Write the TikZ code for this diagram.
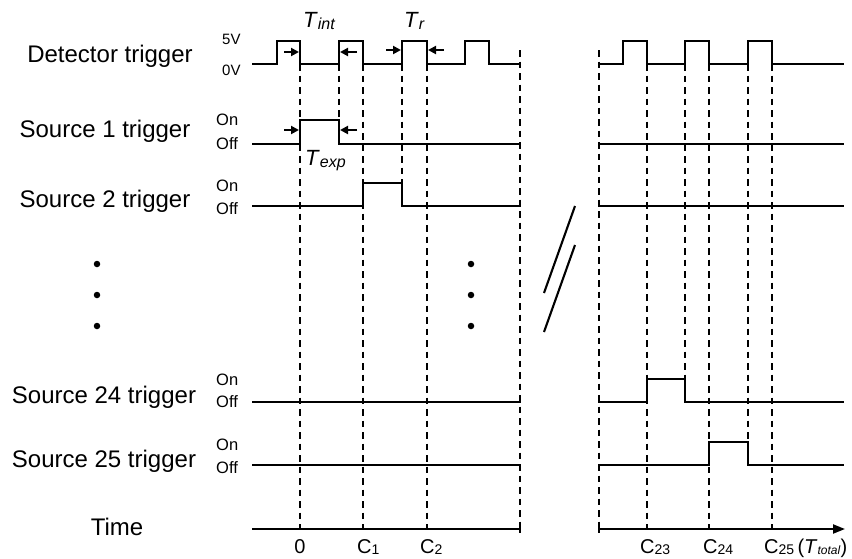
\documentclass[tikz,border=0pt]{standalone}
\usepackage{fontspec}
\setmainfont{Liberation Sans}
\usetikzlibrary{arrows.meta}
\newcommand{\mysub}[3]{\raisebox{#3}{\fontsize{#1}{#1}\selectfont #2}}
\begin{document}
\begin{tikzpicture}[x=1pt,y=-1pt,
  sig/.style={line width=2.1pt, line join=miter, line cap=rect},
  dsh/.style={line width=2.1pt, dash pattern=on 6.5pt off 5pt},
  lab/.style={font=\fontsize{24}{28}\selectfont, inner sep=0, anchor=base},
  lvl/.style={font=\fontsize{16.5}{18}\selectfont, inner sep=0, anchor=base west},
  volt/.style={font=\fontsize{15}{18}\selectfont, inner sep=0, anchor=base west},
  tlab/.style={font=\fontsize{22}{24}\selectfont, inner sep=0, anchor=base west},
  clab/.style={font=\fontsize{20}{24}\selectfont, inner sep=0, anchor=base west},
  marr/.style={line width=2.1pt, -{Triangle[length=8pt,width=8pt]}},
  brk/.style={line width=2.1pt},
  dot/.style={circle, fill=black, inner sep=0, minimum size=6.5pt}]
\useasboundingbox (0,0) rectangle (852,558);

% row labels
\node[lab] (ldet) at (110,62) {Detector trigger};
\node[lab] (ls1) at (105,137) {Source 1 trigger};
\node[lab] (ls2) at (105,207) {Source 2 trigger};
\node[lab] (ls24) at (104,403) {Source 24 trigger};
\node[lab] (ls25) at (104,467) {Source 25 trigger};
\node[lab] (ltime) at (117,535) {Time};

% level labels
\node[volt] (v5) at (222,44) {5V};
\node[volt] (v0) at (222,75) {0V};
\node[lvl] (on1) at (216,125) {On};
\node[lvl] (off1) at (216,149) {Off};
\node[lvl] (on2) at (216,191) {On};
\node[lvl] (off2) at (216,214) {Off};
\node[lvl] (on24) at (216,385) {On};
\node[lvl] (off24) at (216,407) {Off};
\node[lvl] (on25) at (216,450) {On};
\node[lvl] (off25) at (216,473) {Off};

% dashed guide lines
\foreach \x/\ya/\yb in {300/64/529, 339/64/120, 363/64/529, 402/64/183, 427/64/529, 520/50/529,
                       599/50/529, 647/64/529, 685/64/379, 709/64/529, 748/64/442, 772/64/529}
  \draw[dsh] (\x,\ya) -- (\x,\yb);

% detector trigger
\draw[sig] (253,64) -- (277,64) -- (277,41) -- (300,41) -- (300,64) -- (339,64) -- (339,41) -- (363,41) -- (363,64)
  -- (402,64) -- (402,41) -- (427,41) -- (427,64) -- (465,64) -- (465,41) -- (489,41) -- (489,64) -- (520,64);
\draw[sig] (599,64) -- (623,64) -- (623,41) -- (647,41) -- (647,64) -- (685,64) -- (685,41) -- (709,41) -- (709,64)
  -- (748,64) -- (748,41) -- (772,41) -- (772,64) -- (843,64);

% source 1
\draw[sig] (253,144) -- (300,144) -- (300,120) -- (339,120) -- (339,144) -- (520,144);
\draw[sig] (599,144) -- (843,144);
% source 2
\draw[sig] (253,206) -- (363,206) -- (363,183) -- (402,183) -- (402,206) -- (520,206);
\draw[sig] (599,206) -- (843,206);
% source 24
\draw[sig] (253,402) -- (520,402);
\draw[sig] (599,402) -- (647,402) -- (647,379) -- (685,379) -- (685,402) -- (843,402);
% source 25
\draw[sig] (253,465) -- (520,465);
\draw[sig] (599,465) -- (709,465) -- (709,442) -- (748,442) -- (748,465) -- (843,465);

% time axis
\coordinate (tl0) at (253,529);
\coordinate (tl1) at (520,529);
\coordinate (tr0) at (599,529);
\coordinate (tr1) at (845,529);
\draw[sig] (tl0) -- (tl1);
\draw[line width=2.1pt, -{Triangle[length=12pt,width=9pt]}] (tr0) -- (tr1);
\draw[line width=2.1pt] (520,525) -- (520,533);
\draw[line width=2.1pt] (599,525) -- (599,533);

% measurement arrows
\coordinate (a1s) at (284,52); \coordinate (a1e) at (299,52);
\coordinate (a2s) at (357,52); \coordinate (a2e) at (340,52);
\coordinate (a3s) at (386,50); \coordinate (a3e) at (401,50);
\coordinate (a4s) at (444,50); \coordinate (a4e) at (428,50);
\coordinate (a5s) at (284,130); \coordinate (a5e) at (299,130);
\coordinate (a6s) at (357,130); \coordinate (a6e) at (340,130);
\draw[marr] (a1s) -- (a1e);
\draw[marr] (a2s) -- (a2e);
\draw[marr] (a3s) -- (a3e);
\draw[marr] (a4s) -- (a4e);
\draw[marr] (a5s) -- (a5e);
\draw[marr] (a6s) -- (a6e);

\node[tlab] (tint) at (303,27) {\textit{T}\mysub{16}{\textit{int}}{-2.5pt}};
\node[tlab] (tr) at (404,27) {\textit{T}\mysub{16}{\textit{r}}{-2.5pt}};
\node[tlab] (texp) at (305,165) {\textit{T}\mysub{16}{\textit{exp}}{-2.5pt}};

% time labels
\node[clab, anchor=base] (c0) at (300,553) {0};
\node[clab] (c1) at (357,553) {C\mysub{14}{1}{-1.5pt}};
\node[clab] (c2) at (420,553) {C\mysub{14}{2}{-1.5pt}};
\node[clab] (c23) at (640,553) {C\mysub{14}{23}{-1.5pt}};
\node[clab] (c24) at (703,553) {C\mysub{14}{24}{-1.5pt}};
\node[clab] (c25) at (764,553) {C\mysub{14}{25}{-1.5pt}\,(\textit{T}\mysub{12}{\textit{total}}{-1.5pt})};

% ellipsis dots
\foreach \y [count=\i] in {264,295,326} {
  \node[dot] (dl\i) at (97,\y) {};
  \node[dot] (dr\i) at (471,\y) {};
}

% axis break
\draw[brk] (575,206) -- (544,293);
\draw[brk] (575,245) -- (544,332);
\end{tikzpicture}
\end{document}
